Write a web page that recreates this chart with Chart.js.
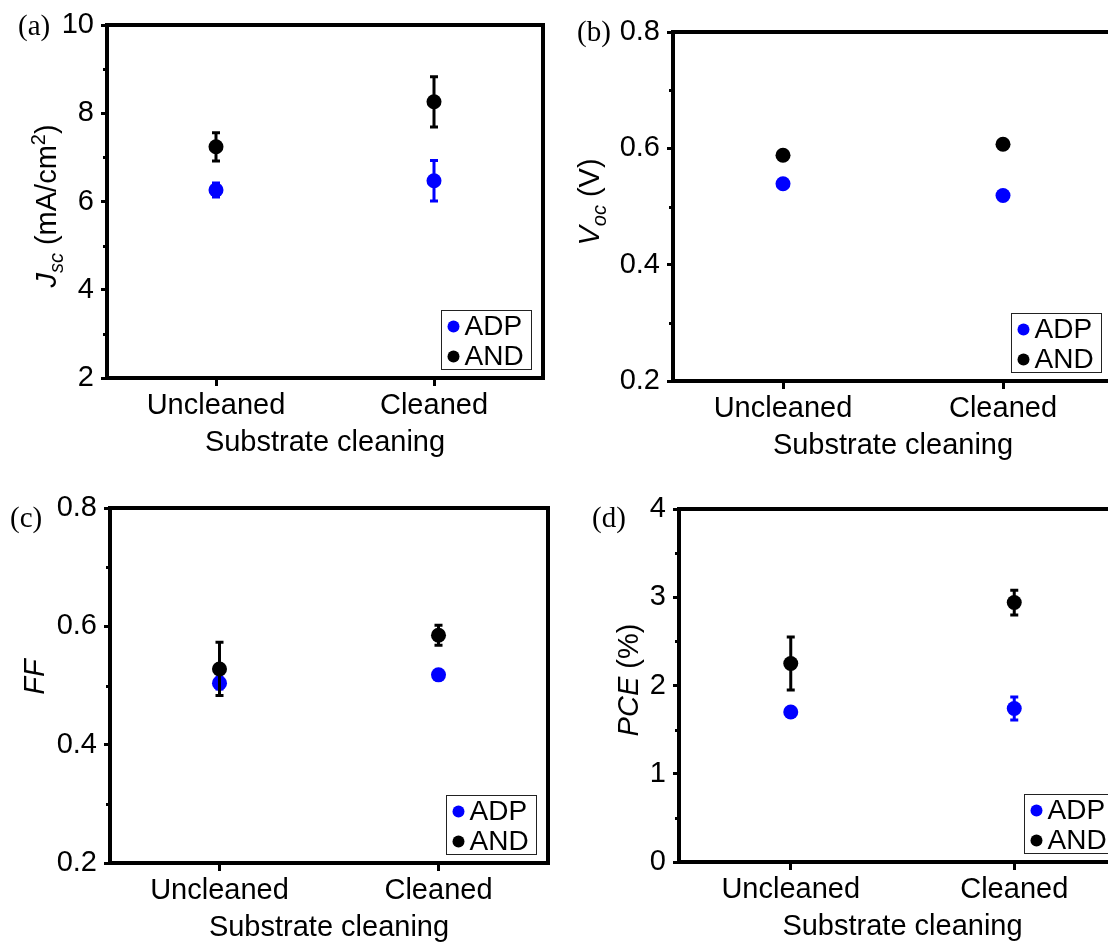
<!DOCTYPE html>
<html>
<head>
<meta charset="utf-8">
<script src="https://cdn.jsdelivr.net/npm/chart.js@4.4.1/dist/chart.umd.min.js"></script>
<style>
  html, body { margin: 0; padding: 0; background: #fff; overflow: hidden; width: 1108px; height: 942px; }
  canvas { position: absolute; }
</style>
</head>
<body>
<canvas id="panelA" width="560" height="470" style="left:0px;top:0px"></canvas>
<canvas id="panelB" width="600" height="470" style="left:560px;top:0px"></canvas>
<canvas id="panelC" width="560" height="472" style="left:0px;top:470px"></canvas>
<canvas id="panelD" width="600" height="472" style="left:560px;top:470px"></canvas>
<script>
// Device parameters versus substrate cleaning, two processing routes
const categories = ['Uncleaned', 'Cleaned'];
const seriesNames = ['ADP', 'AND'];

// Jsc (mA/cm2)
const jscADP = [6.26, 6.47];
const jscADPErr = [0.16, 0.46];
const jscAND = [7.24, 8.26];
const jscANDErr = [0.32, 0.57];
const jscTicks = [2, 4, 6, 8, 10];
const jscMinor = [3, 5, 7, 9];

// Voc (V)
const vocADP = [0.539, 0.519];
const vocADPErr = [0.004, 0.004];
const vocAND = [0.588, 0.607];
const vocANDErr = [0.004, 0.004];
const vocTicks = [0.2, 0.4, 0.6, 0.8];
const vocMinor = [0.3, 0.5, 0.7];

// FF
const ffADP = [0.504, 0.518];
const ffADPErr = [0.01, 0.004];
const ffAND = [0.528, 0.585];
const ffANDErr = [0.045, 0.017];
const ffTicks = [0.2, 0.4, 0.6, 0.8];
const ffMinor = [0.3, 0.5, 0.7];

// PCE (%)
const pceADP = [1.70, 1.74];
const pceADPErr = [0.03, 0.13];
const pceAND = [2.25, 2.94];
const pceANDErr = [0.30, 0.14];
const pceTicks = [0, 1, 2, 3, 4];
const pceMinor = [0.5, 1.5, 2.5, 3.5];

const xTitle = 'Substrate cleaning';

const SANS = '"Liberation Sans", Arial, Helvetica, sans-serif';
const SERIF = '"Liberation Serif", "Times New Roman", serif';
const BLUE = '#0000ff';
const BLACK = '#000000';
const FONT_SIZE = 29;
const X_AXIS_H = 82;

function drawRuns(ctx, runs, baseX, centerY) {
  ctx.save();
  ctx.translate(baseX, centerY);
  ctx.rotate(-Math.PI / 2);
  ctx.textBaseline = 'alphabetic';
  ctx.textAlign = 'left';
  ctx.fillStyle = BLACK;
  let total = 0;
  runs.forEach(r => { ctx.font = r.font; r.w = ctx.measureText(r.text).width; total += r.w; });
  let x = -total / 2;
  runs.forEach(r => { ctx.font = r.font; ctx.fillText(r.text, x, r.dy || 0); x += r.w; });
  ctx.restore();
}

const panelDecor = {
  id: 'panelDecor',
  beforeDatasetDraw(chart, args) {
    const ds = chart.data.datasets[args.index];
    const yScale = chart.scales.y;
    const ctx = chart.ctx;
    ctx.save();
    ctx.strokeStyle = ds.borderColor;
    ctx.lineWidth = 3;
    ctx.lineCap = 'butt';
    args.meta.data.forEach((pt, i) => {
      const v = ds.data[i], e = ds.err[i];
      const y1 = yScale.getPixelForValue(v + e);
      const y2 = yScale.getPixelForValue(v - e);
      ctx.beginPath();
      ctx.moveTo(pt.x, y1); ctx.lineTo(pt.x, y2);
      ctx.moveTo(pt.x - 4, y1); ctx.lineTo(pt.x + 4, y1);
      ctx.moveTo(pt.x - 4, y2); ctx.lineTo(pt.x + 4, y2);
      ctx.stroke();
    });
    ctx.restore();
  },
  afterDraw(chart, args, opts) {
    const ctx = chart.ctx;
    const a = chart.chartArea;
    const yScale = chart.scales.y;
    ctx.save();
    // frame
    ctx.strokeStyle = BLACK;
    ctx.lineWidth = 4;
    ctx.lineJoin = 'miter';
    ctx.strokeRect(a.left, a.top, a.right - a.left, a.bottom - a.top);
    // minor ticks on the left axis
    ctx.lineWidth = 3;
    ctx.beginPath();
    opts.minor.forEach(v => {
      const y = Math.round(yScale.getPixelForValue(v)) + 0.5;
      ctx.moveTo(a.left - 4, y); ctx.lineTo(a.left, y);
    });
    ctx.stroke();
    // legend
    const bw = 90, bh = 59;
    const bx = Math.round(a.right - 12 - bw) + 0.5;
    const by = Math.round(a.bottom - 9 - bh) + 0.5;
    ctx.fillStyle = '#ffffff';
    ctx.fillRect(bx, by, bw, bh);
    ctx.lineWidth = 1;
    ctx.strokeStyle = '#222222';
    ctx.strokeRect(bx, by, bw, bh);
    ctx.font = '28px ' + SANS;
    ctx.textBaseline = 'middle';
    ctx.textAlign = 'left';
    chart.data.datasets.forEach((ds, i) => {
      const cy = by + 16 + i * 30;
      ctx.fillStyle = ds.backgroundColor;
      ctx.beginPath();
      ctx.arc(bx + 12, cy, 6, 0, Math.PI * 2);
      ctx.fill();
      ctx.fillStyle = BLACK;
      ctx.fillText(ds.label, bx + 23, cy + 1);
    });
    // panel tag
    ctx.font = FONT_SIZE + 'px ' + SERIF;
    ctx.fillStyle = BLACK;
    ctx.textBaseline = 'middle';
    ctx.fillText(opts.tag, opts.tagX, opts.tagY);
    // y-axis title
    drawRuns(ctx, opts.titleRuns, opts.titleX, opts.titleY);
    ctx.restore();
  }
};

const big = FONT_SIZE + 'px ' + SANS;
const bigItalic = 'italic ' + FONT_SIZE + 'px ' + SANS;
const small = '20px ' + SANS;
const smallItalic = 'italic 20px ' + SANS;

function makePanel(id, cfg) {
  const canvas = document.getElementById(id);
  const W = canvas.width, H = canvas.height;
  const area = cfg.area;
  return new Chart(canvas.getContext('2d'), {
    type: 'line',
    data: {
      labels: categories,
      datasets: [
        { label: seriesNames[0], data: cfg.adp, err: cfg.adpErr, showLine: false,
          pointRadius: 7.5, pointHoverRadius: 7.5, pointBorderWidth: 0,
          pointBackgroundColor: BLUE, backgroundColor: BLUE, borderColor: BLUE, order: 1 },
        { label: seriesNames[1], data: cfg.and, err: cfg.andErr, showLine: false,
          pointRadius: 7.5, pointHoverRadius: 7.5, pointBorderWidth: 0,
          pointBackgroundColor: BLACK, backgroundColor: BLACK, borderColor: BLACK, order: 0 }
      ]
    },
    options: {
      responsive: false,
      animation: false,
      devicePixelRatio: 1,
      events: [],
      layout: { padding: { left: 0, top: area.top, right: W - area.right, bottom: H - area.bottom - X_AXIS_H } },
      plugins: {
        legend: { display: false },
        tooltip: { enabled: false },
        panelDecor: { minor: cfg.minor, tag: cfg.tag, tagX: cfg.tagX, tagY: cfg.tagY,
                      titleRuns: cfg.titleRuns, titleX: cfg.titleX, titleY: cfg.titleY }
      },
      scales: {
        x: {
          type: 'category',
          offset: true,
          border: { display: false },
          grid: { display: true, offset: false, drawOnChartArea: false, drawTicks: true,
                  tickLength: 8, tickWidth: 3, tickColor: BLACK },
          ticks: { font: { family: SANS, size: FONT_SIZE }, color: BLACK, padding: 3,
                   maxRotation: 0, minRotation: 0, autoSkip: false },
          title: { display: true, text: xTitle, font: { family: SANS, size: FONT_SIZE },
                   color: BLACK, padding: { top: 0, bottom: 0 } },
          afterFit: s => { s.height = X_AXIS_H; }
        },
        y: {
          min: cfg.min, max: cfg.max,
          border: { display: false },
          grid: { display: true, drawOnChartArea: false, drawTicks: true,
                  tickLength: 6, tickWidth: 3, tickColor: BLACK },
          afterBuildTicks: s => { s.ticks = cfg.ticks.map(v => ({ value: v })); },
          ticks: { font: { family: SANS, size: FONT_SIZE }, color: BLACK, padding: 7,
                   callback: v => cfg.fmt(v) },
          afterFit: s => { s.width = area.left; }
        }
      }
    },
    plugins: [panelDecor]
  });
}

makePanel('panelA', {
  area: { left: 107, top: 25, right: 543, bottom: 378 },
  min: 2, max: 10, ticks: jscTicks, minor: jscMinor, fmt: v => String(v),
  adp: jscADP, adpErr: jscADPErr, and: jscAND, andErr: jscANDErr,
  tag: '(a)', tagX: 18, tagY: 27,
  titleX: 56, titleY: 206,
  titleRuns: [
    { text: 'J', font: bigItalic },
    { text: 'sc', font: smallItalic, dy: 7 },
    { text: ' (mA/cm', font: big },
    { text: '2', font: small, dy: -11 },
    { text: ')', font: big }
  ]
});

makePanel('panelB', {
  area: { left: 113, top: 32, right: 553, bottom: 381 },
  min: 0.2, max: 0.8, ticks: vocTicks, minor: vocMinor, fmt: v => v.toFixed(1),
  adp: vocADP, adpErr: vocADPErr, and: vocAND, andErr: vocANDErr,
  tag: '(b)', tagX: 17, tagY: 33,
  titleX: 39, titleY: 202,
  titleRuns: [
    { text: 'V', font: bigItalic },
    { text: 'oc', font: smallItalic, dy: 7 },
    { text: ' (V)', font: big }
  ]
});

makePanel('panelC', {
  area: { left: 110, top: 38, right: 548, bottom: 393 },
  min: 0.2, max: 0.8, ticks: ffTicks, minor: ffMinor, fmt: v => v.toFixed(1),
  adp: ffADP, adpErr: ffADPErr, and: ffAND, andErr: ffANDErr,
  tag: '(c)', tagX: 10, tagY: 49,
  titleX: 44, titleY: 207,
  titleRuns: [
    { text: 'FF', font: bigItalic }
  ]
});

makePanel('panelD', {
  area: { left: 119, top: 39, right: 566, bottom: 392 },
  min: 0, max: 4, ticks: pceTicks, minor: pceMinor, fmt: v => String(v),
  adp: pceADP, adpErr: pceADPErr, and: pceAND, andErr: pceANDErr,
  tag: '(d)', tagX: 32, tagY: 49,
  titleX: 78, titleY: 210,
  titleRuns: [
    { text: 'PCE', font: bigItalic },
    { text: ' (%)', font: big }
  ]
});
</script>
</body>
</html>
